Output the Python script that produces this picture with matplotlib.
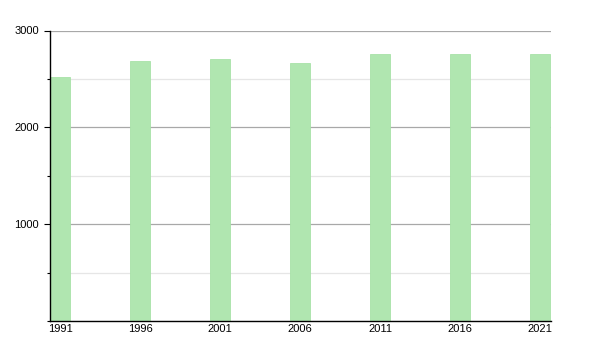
import matplotlib
matplotlib.use("Agg")
import matplotlib.pyplot as plt
from matplotlib.ticker import MultipleLocator

years = ["1991", "1996", "2001", "2006", "2011", "2016", "2021"]
population = [2519, 2687, 2704, 2663, 2756, 2756, 2756]

plt.rcParams['font.family'] = ['Liberation Sans', 'DejaVu Sans']

fig = plt.figure(figsize=(6, 3.5), dpi=100)
ax = fig.add_axes([50 / 600, (350 - 321) / 350, 501 / 600, (321 - 30.5) / 350])

x = list(range(len(years)))
ax.bar(x, population, width=0.25, color="#b0e6b0", edgecolor="#a8e2a8", linewidth=0.6, zorder=3)

ax.set_xlim(-0.125, -0.125 + 501 / 80)
ax.set_ylim(0, 3000)
ax.set_xticks(x)
ax.set_xticklabels(years)
ax.yaxis.set_major_locator(MultipleLocator(1000))
ax.yaxis.set_minor_locator(MultipleLocator(500))
ax.set_yticks([1000, 2000, 3000])

ax.grid(axis="y", which="major", color="#a8a8a8", linewidth=0.9, zorder=1)
ax.grid(axis="y", which="minor", color="#e6e6e6", linewidth=0.9, zorder=1)
ax.set_axisbelow(True)

for side in ["top", "right"]:
    ax.spines[side].set_visible(False)
for side in ["left", "bottom"]:
    ax.spines[side].set_linewidth(1.0)
    ax.spines[side].set_zorder(5)

ax.tick_params(axis="x", length=0, pad=2, labelsize=8)
ax.tick_params(axis="y", which="major", length=4.5, width=0.8, pad=3.5, labelsize=8)
ax.tick_params(axis="y", which="minor", length=2, width=0.8)

fig.savefig("out.png", dpi=100)
